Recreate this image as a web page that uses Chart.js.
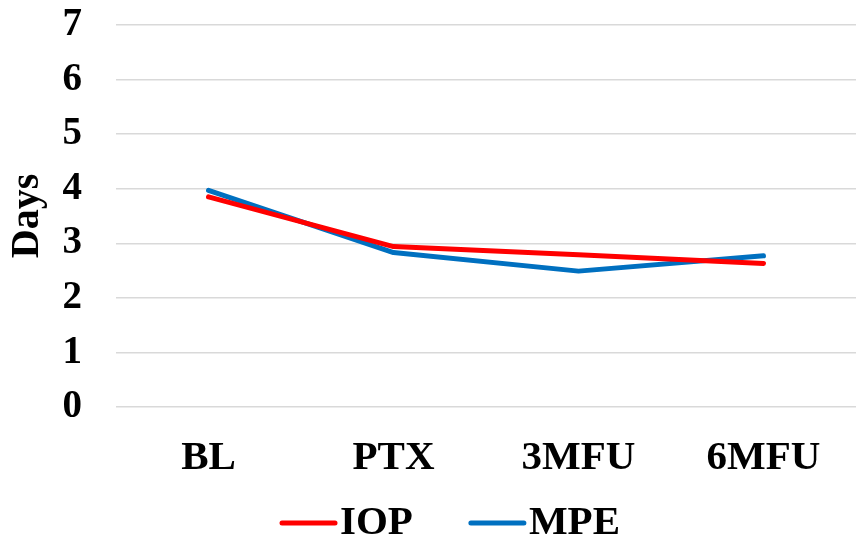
<!DOCTYPE html>
<html>
<head>
<meta charset="utf-8">
<script src="https://cdn.jsdelivr.net/npm/chart.js@4/dist/chart.umd.min.js"></script>
<style>
  html, body { margin: 0; padding: 0; background: #ffffff; }
  #wrap { width: 857px; height: 541px; }
</style>
</head>
<body>
<div id="wrap"><canvas id="c" width="857" height="541"></canvas></div>
<script>
// Follow-up time points
const categories = ['BL', 'PTX', '3MFU', '6MFU'];
// Mean days per group
const iopValues = [3.85, 2.94, 2.79, 2.63];
const mpeValues = [3.97, 2.83, 2.49, 2.77];
const yTicks = [0, 1, 2, 3, 4, 5, 6, 7];

const SERIF = '"Liberation Serif", "Times New Roman", serif';

// Legend drawn below the plot: short rounded line followed by the series name
const bottomLegend = {
  id: 'bottomLegend',
  afterDraw(chart) {
    const ctx = chart.ctx;
    const sets = chart.data.datasets;
    const lineLen = 57, gapText = 3, gapItem = 56;
    ctx.save();
    ctx.font = 'bold 41px ' + SERIF;
    const widths = sets.map(d => ctx.measureText(d.label).width);
    let total = 0;
    widths.forEach((w, i) => { total += lineLen + gapText + w + (i ? gapItem : 0); });
    let x = 450 - total / 2;
    const y = 523;
    sets.forEach((d, i) => {
      ctx.strokeStyle = d.borderColor;
      ctx.lineWidth = 5;
      ctx.lineCap = 'round';
      ctx.beginPath();
      ctx.moveTo(x + 2, y);
      ctx.lineTo(x + lineLen - 2, y);
      ctx.stroke();
      ctx.fillStyle = '#000000';
      ctx.textBaseline = 'middle';
      ctx.textAlign = 'left';
      ctx.fillText(d.label, x + lineLen + gapText, y);
      x += lineLen + gapText + widths[i] + gapItem;
    });
    ctx.restore();
  }
};

new Chart(document.getElementById('c'), {
  type: 'line',
  data: {
    labels: categories,
    datasets: [
      {
        label: 'IOP',
        data: iopValues,
        borderColor: '#FF0000',
        backgroundColor: '#FF0000',
        borderWidth: 5,
        borderCapStyle: 'round',
        borderJoinStyle: 'round',
        pointRadius: 0,
        tension: 0
      },
      {
        label: 'MPE',
        data: mpeValues,
        borderColor: '#0070C0',
        backgroundColor: '#0070C0',
        borderWidth: 5,
        borderCapStyle: 'round',
        borderJoinStyle: 'round',
        pointRadius: 0,
        tension: 0
      }
    ]
  },
  options: {
    responsive: false,
    animation: false,
    layout: { padding: { left: 4, right: 1, top: 25, bottom: 0 } },
    plugins: {
      legend: { display: false },
      tooltip: { enabled: false }
    },
    scales: {
      x: {
        offset: true,
        grid: { display: false, drawTicks: false },
        border: { display: false },
        ticks: {
          color: '#000000',
          font: { family: SERIF, size: 41, weight: 'bold' },
          padding: 27,
          maxRotation: 0,
          autoSkip: false
        },
        afterFit(scale) {
          scale.height = 134;
          scale.paddingLeft = 0;
          scale.paddingRight = 0;
        }
      },
      y: {
        min: 0,
        max: 7,
        afterBuildTicks(scale) { scale.ticks = yTicks.map(v => ({ value: v })); },
        grid: { color: '#D9D9D9', lineWidth: 1.5, drawTicks: false },
        border: { display: false },
        ticks: {
          color: '#000000',
          font: { family: SERIF, size: 39, weight: 'bold' },
          padding: 34
        },
        title: {
          display: true,
          text: 'Days',
          color: '#000000',
          font: { family: SERIF, size: 40, weight: 'bold' },
          padding: { top: 0, bottom: 0 }
        },
        afterFit(scale) {
          scale.width = 112;
          scale.paddingTop = 0;
          scale.paddingBottom = 0;
        }
      }
    }
  },
  plugins: [bottomLegend]
});
</script>
</body>
</html>
